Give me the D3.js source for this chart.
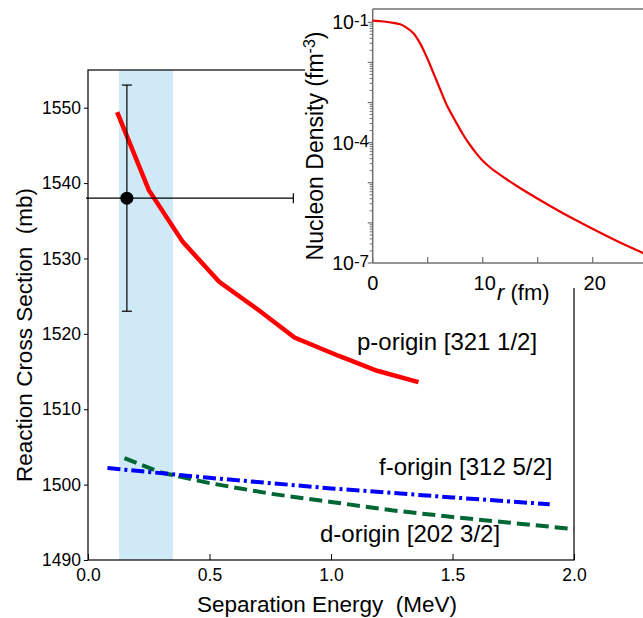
<!DOCTYPE html>
<html><head><meta charset="utf-8">
<script src="https://cdn.jsdelivr.net/npm/d3@7"></script>
<style>
html,body{margin:0;padding:0;background:#fff;}
svg{display:block;font-family:"Liberation Sans",Arial,Helvetica,sans-serif;}
</style></head>
<body>
<svg id="c" width="643" height="618"></svg>
<script>
// ---- data ----
const pX = [0.12, 0.25, 0.39, 0.54, 0.70, 0.85, 1.03, 1.19, 1.36];
const pY = [1549.4, 1539.1, 1532.2, 1526.9, 1523.2, 1519.5, 1517.1, 1515.1, 1513.6];
const fX = [0.08, 0.5, 1.0, 1.5, 1.9];
const fY = [1502.2, 1500.9, 1499.5, 1498.3, 1497.4];
const dX = [0.15, 0.3, 0.5, 0.75, 1.0, 1.25, 1.5, 1.75, 2.0];
const dY = [1503.5, 1501.6, 1500.2, 1498.8, 1497.7, 1496.6, 1495.7, 1494.9, 1494.1];
const band = [0.128, 0.35];
const expPoint = {x: 0.16, y: 1538};
const expErrY = [1523, 1553];
const expErrX = [-0.008, 0.845];
const xTicks = [0.0, 0.5, 1.0, 1.5, 2.0];
const yTicks = [1490, 1500, 1510, 1520, 1530, 1540, 1550];
const seriesLabels = ["p-origin [321 1/2]", "f-origin [312 5/2]", "d-origin [202 3/2]"];

// inset: nucleon density
const rVals = [0, 1, 2, 2.5, 3, 3.7, 4.3, 4.9, 5.5, 6.1, 6.8, 7.6, 8.2, 8.8, 9.4, 10.0, 10.6, 11.3, 13.1, 15.2, 17.3, 19.8, 22.2, 25];
const rhoVals = [0.1096, 0.1047, 0.0955, 0.0891, 0.0759, 0.0537, 0.0302, 0.0138, 5.62e-3, 2.24e-3, 7.94e-4, 3.16e-4, 1.62e-4, 9.12e-5, 5.5e-5, 3.55e-5, 2.51e-5, 1.78e-5, 8.32e-6, 3.72e-6, 1.74e-6, 7.59e-7, 3.55e-7, 1.58e-7];
const rTicks = [0, 5, 10, 15, 20];
const rTickLabels = [0, 10, 20];
const rhoMajor = [-1, -2, -3, -4, -5, -6, -7];
const rhoLabelExp = [-1, -4, -7];

// ---- main chart ----
const svg = d3.select("#c");
const x = d3.scaleLinear([0, 2], [88, 574]);
const y = d3.scaleLinear([1490, 1555], [560, 70]);

svg.append("rect").attr("x", x(band[0])).attr("y", y(1555))
  .attr("width", x(band[1]) - x(band[0])).attr("height", y(1490) - y(1555))
  .attr("fill", "#d0e9f7");

const line = d3.line().x(d => x(d[0])).y(d => y(d[1]));
const zip = (a, b) => a.map((v, i) => [v, b[i]]);

svg.append("path").datum(zip(pX, pY)).attr("d", line)
  .attr("fill", "none").attr("stroke", "#ff0000").attr("stroke-width", 4.5);
svg.append("path").datum(zip(dX, dY)).attr("d", line)
  .attr("fill", "none").attr("stroke", "#006633").attr("stroke-width", 4)
  .attr("stroke-dasharray", "13,6");
svg.append("path").datum(zip(fX, fY)).attr("d", line)
  .attr("fill", "none").attr("stroke", "#0000ff").attr("stroke-width", 4)
  .attr("stroke-dasharray", "13,4,3,4");

// frame
svg.append("rect").attr("x", x(0)).attr("y", y(1555))
  .attr("width", x(2) - x(0)).attr("height", y(1490) - y(1555))
  .attr("fill", "none").attr("stroke", "#000").attr("stroke-width", 1.2);

// error bars
const eb = svg.append("g").attr("stroke", "#000").attr("stroke-width", 1.2);
eb.append("line").attr("x1", x(expPoint.x)).attr("x2", x(expPoint.x)).attr("y1", y(expErrY[0])).attr("y2", y(expErrY[1]));
[expErrY[0], expErrY[1]].forEach(v => eb.append("line")
  .attr("x1", x(expPoint.x) - 5).attr("x2", x(expPoint.x) + 5).attr("y1", y(v)).attr("y2", y(v)));
eb.append("line").attr("x1", x(expErrX[0])).attr("x2", x(expErrX[1])).attr("y1", y(expPoint.y)).attr("y2", y(expPoint.y));
eb.append("line").attr("x1", x(expErrX[1])).attr("x2", x(expErrX[1])).attr("y1", y(expPoint.y) - 5).attr("y2", y(expPoint.y) + 5);
svg.append("circle").attr("cx", x(expPoint.x)).attr("cy", y(expPoint.y)).attr("r", 6.5).attr("fill", "#000");

// axes
const xa = svg.append("g").attr("transform", `translate(0,${y(1490)})`)
  .call(d3.axisBottom(x).tickValues(xTicks).tickFormat(d3.format(".1f")).tickSizeInner(-6).tickSizeOuter(0).tickPadding(9));
xa.select(".domain").remove();
xa.selectAll("text").attr("font-size", 17.5).attr("font-family", "Liberation Sans, Arial, sans-serif");
const ya = svg.append("g").attr("transform", `translate(${x(0)},0)`)
  .call(d3.axisLeft(y).tickValues(yTicks).tickFormat(d3.format("d")).tickSize(4).tickPadding(3));
ya.select(".domain").remove();
ya.selectAll("text").attr("font-size", 17.5).attr("font-family", "Liberation Sans, Arial, sans-serif");

svg.append("text").attr("x", 327).attr("y", 612).attr("text-anchor", "middle")
  .attr("font-size", 22.5).style("white-space", "pre").text("Separation Energy  (MeV)");
svg.append("text").attr("transform", "translate(32,335) rotate(-90)").attr("text-anchor", "middle")
  .attr("font-size", 22.5).style("white-space", "pre").text("Reaction Cross Section  (mb)");

// series labels
svg.append("text").attr("x", 357).attr("y", 350).attr("font-size", 24).text(seriesLabels[0]);
svg.append("text").attr("x", 379).attr("y", 475).attr("font-size", 24).text(seriesLabels[1]);
svg.append("text").attr("x", 320).attr("y", 542).attr("font-size", 24).text(seriesLabels[2]);

// ---- inset ----
svg.append("rect").attr("x", 305).attr("y", 0).attr("width", 338).attr("height", 288).attr("fill", "#fff");
const xi = d3.scaleLinear([0, 25], [372.7, 647.7]);
const yi = d3.scaleLog([1e-7, 1e-1], [263, 22.3]);
const ins = svg.append("g");
const gray = "#707070";
ins.append("line").attr("x1", xi(0)).attr("x2", 643).attr("y1", 9).attr("y2", 9).attr("stroke", gray).attr("stroke-width", 1.5);
ins.append("line").attr("x1", xi(0)).attr("x2", xi(0)).attr("y1", 9).attr("y2", 263).attr("stroke", gray).attr("stroke-width", 1.5);
ins.append("line").attr("x1", xi(0)).attr("x2", 643).attr("y1", 263).attr("y2", 263).attr("stroke", gray).attr("stroke-width", 1.5);
rTicks.forEach(t => ins.append("line").attr("x1", xi(t)).attr("x2", xi(t)).attr("y1", 263).attr("y2", 257).attr("stroke", gray).attr("stroke-width", 1.2));
rTickLabels.forEach(t => ins.append("text").attr("x", xi(t) + (t ? 2 : 0)).attr("y", 290).attr("text-anchor", "middle").attr("font-size", 20).text(t));
const rl = ins.append("text").attr("x", 497).attr("y", 300).attr("font-size", 22);
rl.append("tspan").attr("font-style", "italic").text("r");
rl.append("tspan").text(" (fm)");
rhoMajor.forEach(e => {
  const v = Math.pow(10, e);
  ins.append("line").attr("x1", xi(0)).attr("x2", xi(0) - 5).attr("y1", yi(v)).attr("y2", yi(v)).attr("stroke", gray).attr("stroke-width", 1.2);
  if (e > -7) {
    for (let m = 2; m <= 9; m++) {
      const mv = m * Math.pow(10, e - 1);
      ins.append("line").attr("x1", xi(0)).attr("x2", xi(0) - 3).attr("y1", yi(mv)).attr("y2", yi(mv)).attr("stroke", gray).attr("stroke-width", 1);
    }
  }
});
rhoLabelExp.forEach(e => {
  const t = ins.append("text").attr("x", 369).attr("y", yi(Math.pow(10, e)) + 7).attr("text-anchor", "end").attr("font-size", 19.5);
  t.append("tspan").text("10");
  t.append("tspan").attr("dy", -3).attr("font-size", 17).text(e);
});
const yl = ins.append("text").attr("transform", "translate(323,146) rotate(-90)").attr("text-anchor", "middle").attr("font-size", 23);
yl.append("tspan").text("Nucleon Density (fm");
yl.append("tspan").attr("dy", -8).attr("font-size", 16).text("-3");
yl.append("tspan").attr("dy", 8).text(")");
ins.append("path").datum(zip(rVals, rhoVals))
  .attr("d", d3.line().x(d => xi(d[0])).y(d => yi(d[1])).curve(d3.curveCatmullRom.alpha(0.5)))
  .attr("fill", "none").attr("stroke", "#ee0000").attr("stroke-width", 2.2);
</script>
</body></html>
